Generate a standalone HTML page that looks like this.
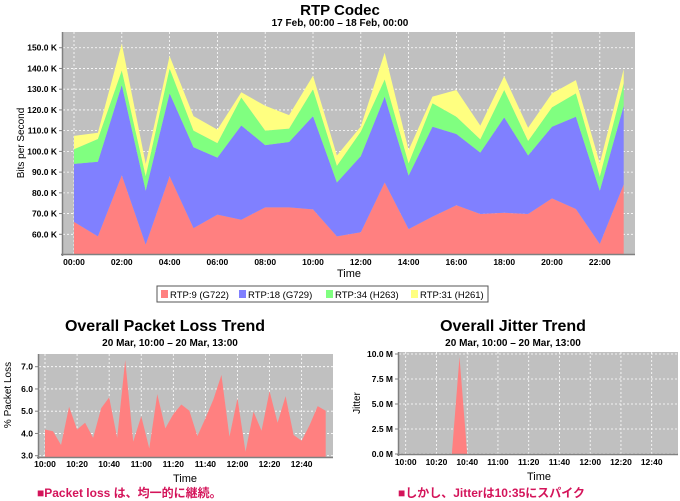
<!DOCTYPE html>
<html><head><meta charset="utf-8"><style>
body{margin:0;background:#fff;width:680px;height:498px;overflow:hidden}
svg{display:block;font-family:"Liberation Sans","DejaVu Sans",sans-serif}
.cap{position:absolute;font:bold 12px "Liberation Sans","Noto Sans CJK JP",sans-serif;color:#d4145a}
</style></head><body>
<svg id="s" width="680" height="498">
<text x="340" y="15" text-anchor="middle" font-size="15" font-weight="bold">RTP Codec</text>
<text x="340" y="26" text-anchor="middle" font-size="10" font-weight="bold">17 Feb, 00:00 –  18 Feb, 00:00</text>
<text transform="translate(24,143) rotate(-90)" text-anchor="middle" font-size="10">Bits per Second</text>
<text x="349" y="277" text-anchor="middle" font-size="11">Time</text>
<g>
<rect x="157" y="286" width="331" height="16" fill="#fff" stroke="#555"/>
</g>
<text x="165" y="331" text-anchor="middle" font-size="16" font-weight="bold">Overall Packet Loss Trend</text>
<text x="170" y="346" text-anchor="middle" font-size="10" font-weight="bold">20 Mar, 10:00 –  20 Mar, 13:00</text>
<text transform="translate(11,395) rotate(-90)" text-anchor="middle" font-size="10">% Packet Loss</text>
<text x="185" y="482" text-anchor="middle" font-size="11">Time</text>
<text x="513" y="331" text-anchor="middle" font-size="16" font-weight="bold">Overall Jitter Trend</text>
<text x="513" y="346" text-anchor="middle" font-size="10" font-weight="bold">20 Mar, 10:00 –  20 Mar, 13:00</text>
<text transform="translate(360,403) rotate(-90)" text-anchor="middle" font-size="10">Jitter</text>
<text x="539" y="480" text-anchor="middle" font-size="11">Time</text>
</svg>
<div class="cap" style="left:37px;top:484px">■Packet loss は、均一的に継続。</div>
<div class="cap" style="left:398px;top:484px">■しかし、Jitterは10:35にスパイク</div>
<script>
const hours=[0,1,2,3,4,5,6,7,8,9,10,11,12,13,14,15,16,17,18,19,20,21,22,23];
const rtp9=[66,59,88.5,55,88,63,69.5,67,73,73,72,59,61,85,62.5,68.5,74,69.8,70.4,69.8,77.3,72.2,55.3,84];
const rtp18=[28,36,43.5,26,40,39,27.5,45.5,30,31.5,45,26,36.7,41.4,25.8,43.4,34.4,29.6,46,28.2,34.6,44.5,25.7,37.9];
const rtp34=[7,11,7,7,12,8,7,13.5,7,6.5,13,8,11.8,8.3,5.9,11.3,8.3,6.4,13.2,7,9.3,11.3,6.8,10.9];
const rtp31=[6.5,3,13,6,6,7,6.5,2.5,12,6.5,6.5,5,2.5,12.9,6.4,3.2,12.9,6.6,6.7,6.4,6.8,6.4,6.4,6.9];
const codecTicksY=[60,70,80,90,100,110,120,130,140,150];
const codecTicksX=[0,2,4,6,8,10,12,14,16,18,20,22];
const lossMinutes=[0,5,10,15,20,25,30,35,40,45,50,55,60,65,70,75,80,85,90,95,100,105,110,115,120,125,130,135,140,145,150,155,160,165,170,175];
const lossValues=[4.18,4.1,3.48,5.2,4.18,4.48,3.8,5.13,5.62,3.8,7.3,3.63,4.78,3.33,5.77,4.23,4.87,5.3,5.02,3.88,4.68,5.53,6.63,3.85,5.58,3.18,4.98,4.12,5.9,4.48,5.68,3.93,3.67,4.38,5.23,5.02];
const jitterMinutes=[0,5,10,15,20,25,30,35,40,45,50,55,60,65,70,75,80,85,90,95,100,105,110,115,120,125,130,135,140,145,150,155,160,165,170,175];
const jitterValues=[0,0,0,0,0,0,0,9.7,0,0,0,0,0,0,0,0,0,0,0,0,0,0,0,0,0,0,0,0,0,0,0,0,0,0,0,0];
const lossTicksY=[3,4,5,6,7];
const lossTicksX=[0,20,40,60,80,100,120,140,160];
const jitTicksY=[0,2.5,5,7.5,10];
const jitTicksX=[0,20,40,60,80,100,120,140,160];
</script>
<script>
const NS="http://www.w3.org/2000/svg",S=document.getElementById('s');
function el(t,a,p){const e=document.createElementNS(NS,t);for(const k in a)e.setAttribute(k,a[k]);(p||S).appendChild(e);return e;}
const timeLbl=m=>{const h=10+Math.floor(m/60),mm=m%60;return h+":"+(mm<10?"0":"")+mm;};
function frame(name,L,T,R,B){
  const g=el('g',{});
  
  
  el('rect',{x:L,y:T,width:R-L,height:B-T,fill:'#c0c0c0'},g);return g;}
function grid(g,L,T,R,B,xs,ys){
  xs.forEach(x=>el('line',{x1:x,x2:x,y1:T,y2:B,stroke:'#fff','stroke-dasharray':'2,2','stroke-width':0.8},g));
  ys.forEach(y=>el('line',{x1:L,x2:R,y1:y,y2:y,stroke:'#fff','stroke-dasharray':'2,2','stroke-width':0.8},g));}
function axes(L,T,R,B,name){
  const a=el('line',{x1:L-0.5,x2:L-0.5,y1:T,y2:B+2,stroke:'#808080','stroke-width':1.5});
  
  
  const b=el('line',{x1:L-2,x2:R,y1:B+0.5,y2:B+0.5,stroke:'#808080','stroke-width':1.5});
  
  }
function ylab(x,y,t,name){const e=el('text',{x:x,y:y+3,'text-anchor':'end','font-size':8.5,'font-weight':'bold'});e.textContent=t;
  
  
  el('line',{x1:x+2,x2:x+5,y1:y,y2:y,stroke:'#808080'});}
function xlab(x,y,t,name){const e=el('text',{x:x,y:y,'text-anchor':'middle','font-size':8.5,'font-weight':'bold'});e.textContent=t;
  
  }
function area(g,xs,ysTop,ysBot,fill,name){
  let d="M"+xs.map((x,i)=>x+","+ysTop[i]).join("L");
  for(let i=xs.length-1;i>=0;i--)d+="L"+xs[i]+","+ysBot[i];
  const p=el('path',{d:d+"Z",fill:fill},g);
  
  }

{const L=63,T=32,R=635,B=254;
 const X=h=>74+h*23.9,Y=v=>234.3-(v-60)*2.073;
 const g=frame('codec',L,T,R,B);
 grid(g,L,T,R,B,codecTicksX.map(X),codecTicksY.map(Y));
 const series=[[rtp9,'#ff8080','area-rtp9'],[rtp18,'#8080ff','area-rtp18'],[rtp34,'#80ff80','area-rtp34'],[rtp31,'#ffff80','area-rtp31']];
 let first=true,cum=hours.map(()=>0);
 const xs=hours.map(X);
 series.forEach(([vals,c,n])=>{
   const bot=cum.map(v=>first?B:Y(v));
   cum=cum.map((v,i)=>v+vals[i]);
   area(g,xs,cum.map(Y),bot,c,n);first=false;});
 axes(L,T,R,B,'codec');
 codecTicksY.forEach(v=>ylab(57,Y(v),v.toFixed(1)+" K",'codec-y-tick'));
 codecTicksX.forEach(h=>xlab(X(h),265,(h<10?"0":"")+h+":00",'codec-x-tick'));
 const lg=[['#ff8080','RTP:9 (G722)',161],['#8080ff','RTP:18 (G729)',239],['#80ff80','RTP:34 (H263)',326],['#ffff80','RTP:31 (H261)',411]];
 lg.forEach(([c,t,x])=>{const s=el('rect',{x:x,y:290,width:7,height:8,fill:c});
  
  
  const e=el('text',{x:x+9,y:298,'font-size':9.5});e.textContent=t;
  
  });
}
{const L=39,T=354,R=333,B=457;
 const X=m=>45+m*1.604,Y=v=>455.7-(v-3)*22.25;
 const g=frame('loss',L,T,R,B);
 grid(g,L,T,R,B,lossTicksX.map(X),lossTicksY.map(Y));
 area(g,lossMinutes.map(X),lossValues.map(Y),lossMinutes.map(()=>B),'#ff8080','loss-area');
 axes(L,T,R,B,'loss');
 lossTicksY.forEach(v=>ylab(33,Y(v),v.toFixed(1),'loss-y-tick'));
 lossTicksX.forEach(m=>xlab(X(m),467,timeLbl(m),'loss-x-tick'));
}
{const L=399,T=352,R=678,B=454;
 const X=m=>405.7+m*1.5375,Y=v=>454-v*10;
 const g=frame('jitter',L,T,R,B);
 grid(g,L,T,R,B,jitTicksX.map(X),jitTicksY.map(Y));
 area(g,jitterMinutes.map(X),jitterValues.map(Y),jitterMinutes.map(()=>B),'#ff8080','jitter-area');
 axes(L,T,R,B,'jitter');
 jitTicksY.forEach(v=>ylab(393,Y(v),v.toFixed(1)+" M",'jitter-y-tick'));
 jitTicksX.forEach(m=>xlab(X(m),465,timeLbl(m),'jitter-x-tick'));
}
</script>
</body></html>
